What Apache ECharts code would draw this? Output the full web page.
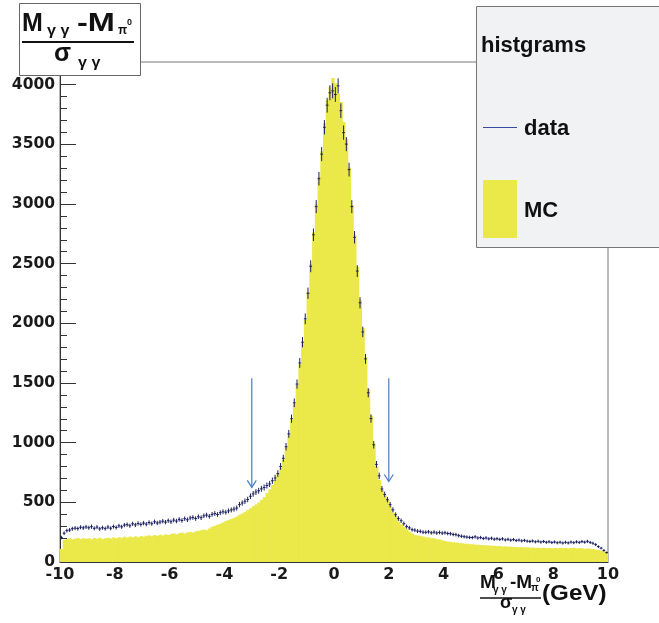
<!DOCTYPE html>
<html lang="en">
<head>
<meta charset="UTF-8">
<title>histgrams</title>
<script src="https://cdn.jsdelivr.net/npm/echarts@6/dist/echarts.min.js"></script>
<style>
    html, body { margin: 0; padding: 0; background: #fff; }
    #chart { width: 659px; height: 623px; }
</style>
</head>
<body>
<div id="chart"></div>
<script>
    // binning: 200 bins of 0.1 from -10 to 10
    const binLow = -10;
    const binWidth = 0.1;

    // MC histogram (yellow)
    const mcCounts = [
        110, 186, 193, 199, 189, 197, 202, 192, 199, 194,
        198, 191, 201, 195, 204, 193, 199, 203, 196, 206,
        199, 208, 202, 211, 204, 213, 207, 215, 208, 217,
        212, 220, 223, 216, 226, 220, 229, 223, 232, 226,
        235, 239, 232, 242, 246, 239, 249, 253, 246, 257,
        261, 267, 272, 266, 281, 296, 304, 313, 321, 331,
        344, 353, 361, 371, 381, 396, 407, 421, 437, 451,
        468, 483, 499, 521, 544, 578, 609, 646, 689, 736,
        792, 858, 962, 1068, 1193, 1328, 1482, 1657, 1834, 2027,
        2262, 2497, 2763, 2996, 3228, 3443, 3677, 3872, 3978, 4055,
        4012, 3926, 3854, 3688, 3545, 3306, 2992, 2738, 2473, 2196,
        1962, 1718, 1452, 1228, 993, 801, 688, 603, 558, 521,
        472, 414, 382, 338, 317, 293, 274, 253, 239, 225,
        223, 217, 213, 207, 206, 199, 198, 191, 189, 181,
        176, 170, 169, 165, 163, 159, 158, 154, 153, 149,
        149, 145, 145, 142, 142, 139, 139, 136, 136, 133,
        134, 130, 131, 128, 129, 126, 127, 124, 125, 122,
        123, 120, 121, 118, 119, 116, 119, 115, 118, 115,
        118, 114, 119, 115, 118, 114, 117, 119, 113, 117,
        115, 111, 114, 109, 109, 103, 101, 94, 89, 77
    ];

    // data histogram (points with errors)
    const dataCounts = [
        205, 241, 263, 268, 279, 284, 280, 291, 286, 294,
        287, 296, 282, 292, 278, 287, 280, 293, 283, 297,
        289, 303, 295, 309, 313, 304, 320, 311, 323, 315,
        326, 317, 331, 321, 337, 327, 334, 342, 334, 346,
        337, 351, 343, 357, 348, 363, 354, 369, 373, 364,
        379, 371, 387, 393, 383, 399, 406, 398, 413, 421,
        417, 428, 436, 443, 452, 481, 494, 509, 524, 551,
        571, 586, 597, 613, 624, 641, 654, 681, 704, 741,
        801, 869, 966, 1074, 1201, 1334, 1491, 1668, 1842, 2038,
        2252, 2478, 2742, 2978, 3212, 3418, 3643, 3828, 3932, 3948,
        3918, 3990, 3782, 3598, 3502, 3288, 2978, 2721, 2438, 2172,
        1928, 1702, 1418, 1202, 982, 818, 722, 612, 566, 522,
        481, 437, 396, 364, 346, 321, 297, 286, 271, 267,
        259, 257, 250, 249, 253, 245, 250, 243, 248, 242,
        245, 239, 237, 231, 229, 221, 216, 212, 209, 206,
        205, 211, 201, 205, 197, 202, 194, 199, 191, 195,
        189, 194, 185, 190, 183, 188, 180, 184, 177, 181,
        175, 172, 176, 169, 174, 167, 172, 165, 170, 163,
        168, 161, 166, 159, 165, 160, 167, 162, 169, 164,
        171, 166, 173, 164, 157, 146, 129, 116, 97, 79
    ];

    // cut arrows
    const arrowX = [-3, 2];
    const arrowTop = [1540, 1540];
    const arrowTip = [625, 675];

    const mcColor = '#ebe84a';
    const dataColor = '#1d2160';
    const arrowColor = '#4a7cc0';
    const labelFont = 'DejaVu Sans';
    const textFont = '"Liberation Sans", Arial, Helvetica, sans-serif';

    const mcBins = mcCounts.map((v, i) => [binLow + i * binWidth, binLow + (i + 1) * binWidth, v]);
    const dataBins = dataCounts.map((v, i) => [binLow + i * binWidth, binLow + (i + 1) * binWidth, v]);
    const arrows = arrowX.map((x, i) => [x, arrowTop[i], arrowTip[i]]);

    function renderMc(params, api) {
        const p0 = api.coord([api.value(0), 0]);
        const p1 = api.coord([api.value(1), api.value(2)]);
        return {
            type: 'rect',
            shape: { x: p0[0], y: p1[1], width: p1[0] - p0[0] + 0.6, height: p0[1] - p1[1] },
            style: { fill: mcColor }
        };
    }

    function renderData(params, api) {
        const lo = api.value(0), hi = api.value(1), v = api.value(2);
        const err = Math.sqrt(v);
        const a = api.coord([lo, v]);
        const b = api.coord([hi, v]);
        const c = (a[0] + b[0]) / 2;
        const top = api.coord([lo, v + err])[1];
        const bot = api.coord([lo, v - err])[1];
        return {
            type: 'group',
            children: [
                { type: 'line', shape: { x1: a[0], y1: a[1], x2: b[0], y2: b[1] },
                  style: { stroke: dataColor, lineWidth: 1 } },
                { type: 'line', shape: { x1: c, y1: top, x2: c, y2: bot },
                  style: { stroke: dataColor, lineWidth: 1 } }
            ]
        };
    }

    function renderArrow(params, api) {
        const t = api.coord([api.value(0), api.value(1)]);
        const p = api.coord([api.value(0), api.value(2)]);
        return {
            type: 'group',
            children: [
                { type: 'line', shape: { x1: t[0], y1: t[1], x2: p[0], y2: p[1] },
                  style: { stroke: arrowColor, lineWidth: 1.2 } },
                { type: 'polyline', shape: { points: [[p[0] - 4.5, p[1] - 7], [p[0], p[1]], [p[0] + 4.5, p[1] - 7]] },
                  style: { stroke: arrowColor, lineWidth: 1.2, fill: 'none' } }
            ]
        };
    }

    // bold text piece placed at (x, y), optional horizontal stretch
    function txt(text, x, y, size, sx) {
        return {
            type: 'text', z: 20, x: x, y: y, scaleX: sx || 1,
            style: { text: text, x: 0, y: 0, fill: '#111', font: 'bold ' + size + 'px ' + textFont, textVerticalAlign: 'middle' }
        };
    }

    const dom = document.getElementById('chart');
    const myChart = echarts.init(dom, null, { renderer: 'canvas' });

    const option = {
        animation: false,
        backgroundColor: '#fff',
        grid: {
            left: 60, right: 51, top: 62, bottom: 61,
            show: true, borderColor: '#777', borderWidth: 1,
            containLabel: false, outerBoundsMode: 'none'
        },
        xAxis: {
            type: 'value', min: -10, max: 10, interval: 2,
            axisLine: { onZero: false, lineStyle: { color: '#333', width: 1 } },
            axisTick: { show: false },
            splitLine: { show: false },
            axisLabel: { fontFamily: labelFont, fontWeight: 'bold', fontSize: 16, color: '#1a1a1a', margin: 5 }
        },
        yAxis: {
            type: 'value', min: 0, max: 4190, interval: 500,
            axisLine: { show: true, onZero: false, lineStyle: { color: '#333', width: 1 } },
            axisTick: { show: true, inside: true, length: 16, lineStyle: { color: '#333' } },
            minorTick: { show: true, splitNumber: 5, length: 7, lineStyle: { color: '#333' } },
            splitLine: { show: false },
            axisLabel: {
                fontFamily: labelFont, fontWeight: 'bold', fontSize: 15.5, color: '#1a1a1a', margin: 5,
                showMaxLabel: false, formatter: (v) => String(v)
            }
        },
        series: [
            { type: 'custom', name: 'MC', renderItem: renderMc, data: mcBins, encode: { x: [0, 1], y: 2 }, clip: true, z: 2 },
            { type: 'custom', name: 'data', renderItem: renderData, data: dataBins, encode: { x: [0, 1], y: 2 }, clip: true, z: 3 },
            { type: 'custom', name: 'cuts', renderItem: renderArrow, data: arrows, encode: { x: 0, y: [1, 2] }, z: 4 }
        ],
        graphic: [
            // title box
            { type: 'rect', z: 10, shape: { x: 19.5, y: 3.5, width: 121, height: 72 }, style: { fill: '#fff', stroke: '#666', lineWidth: 1 } },
            txt('M', 22, 24, 25),
            txt('γ γ', 47, 31, 14, 1.15),
            txt('-M', 77, 24, 25, 1.3),
            txt('π', 118, 31, 12),
            txt('0', 127, 23, 9),
            { type: 'line', z: 20, shape: { x1: 22, y1: 42, x2: 134, y2: 42 }, style: { stroke: '#111', lineWidth: 2 } },
            txt('σ', 54, 54, 25),
            txt('γ γ', 78, 63, 14, 1.15),

            // legend box
            { type: 'rect', z: 10, shape: { x: 476.5, y: 6.5, width: 190, height: 241 }, style: { fill: '#f1f2f4', stroke: '#777', lineWidth: 1 } },
            txt('histgrams', 481, 46, 22),
            { type: 'line', z: 20, shape: { x1: 483, y1: 127.5, x2: 517, y2: 127.5 }, style: { stroke: '#3a4aa0', lineWidth: 1 } },
            txt('data', 524, 129, 22),
            { type: 'rect', z: 20, shape: { x: 483, y: 180, width: 34, height: 58 }, style: { fill: mcColor } },
            txt('MC', 524, 211, 22),

            // x axis title
            txt('M', 480, 583, 19),
            txt('γ γ', 493, 590, 10),
            txt('-M', 510, 583, 19),
            txt('π', 531, 588, 10),
            txt('0', 536, 580, 8),
            { type: 'line', z: 20, shape: { x1: 480, y1: 598, x2: 541, y2: 598 }, style: { stroke: '#111', lineWidth: 1.5 } },
            txt('σ', 500, 603, 18),
            txt('γ γ', 512, 610, 10),
            txt('(GeV)', 542, 594, 22, 1.1)
        ]
    };

    myChart.setOption(option);
    window.addEventListener('resize', myChart.resize);
</script>
</body>
</html>
